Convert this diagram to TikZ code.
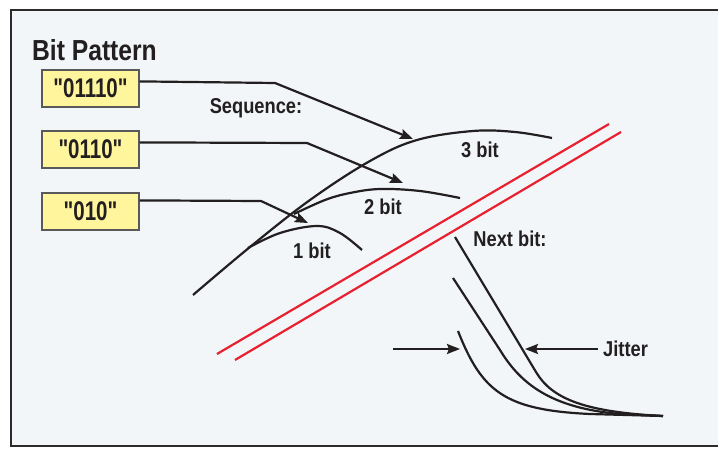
\documentclass[tikz,border=0pt]{standalone}
\usepackage{fontspec}
\usetikzlibrary{arrows.meta,calc}
\newfontfamily\lblfont{Liberation Sans Bold}[FakeStretch=0.85]
\newfontfamily\digfont{Liberation Sans Bold}[FakeStretch=0.76]
\definecolor{panel}{HTML}{F2F6F8}
\definecolor{ink}{HTML}{231F20}
\definecolor{padyellow}{HTML}{FFF59D}
\definecolor{redline}{HTML}{E8202F}
\tikzset{
  pattbox/.style={draw=black!65, line width=1.2pt, fill=padyellow, minimum width=97pt,
    minimum height=37pt, inner sep=0pt, text=ink, font=\digfont\fontsize{27}{27}\selectfont},
  lbl/.style={inner sep=0pt, text=ink, font=\lblfont\fontsize{21.5}{21.5}\selectfont},
  wire/.style={draw=ink, line width=2.2pt},
  pointer/.style={wire, -{Stealth[length=13pt,width=10pt,inset=2pt]}},
  trace/.style={draw=ink, line width=2.2pt},
  guard/.style={draw=redline, line width=2.2pt},
}
\begin{document}
\begin{tikzpicture}[x=1pt,y=-1pt]
\useasboundingbox (0,0) rectangle (718,449);
\clip (0,0) rectangle (718,449);
\fill[white] (0,0) rectangle (718,449);
% panel
\draw[draw=ink!95, line width=2.6pt, fill=panel] (11,10) rectangle (730,446);

% title
\node[inner sep=0pt, anchor=west, text=ink, font=\lblfont\fontsize{29}{29}\selectfont] (title) at (32,50) {Bit Pattern};

% pattern boxes
\node[pattbox] (b1) at (90.5,88.5) {"01110"};
\node[pattbox] (b2) at (90.5,149.5) {"0110"};
\node[pattbox] (b3) at (90.5,211.5) {"010"};

% labels
\node[lbl] (seq) at (256,108) {Sequence:};
\node[lbl] (l3) at (480,150) {3 bit};
\node[lbl] (l2) at (383,207) {2 bit};
\node[lbl] (l1) at (312,251) {1 bit};
\node[lbl] (nxt) at (510,239) {Next bit:};
\node[lbl, anchor=west] (jit) at (603,349) {Jitter};

% eye traces for the sequences
\draw[trace] plot[smooth, tension=0.6] coordinates {(193,295) (250,247) (310,200) (370,161) (417,140) (473,131) (515,132) (552,138)};
\draw[trace] plot[smooth, tension=0.6] coordinates {(294,214) (325,200) (350,193) (380,189) (420,191) (460,198)};
\draw[trace] plot[smooth, tension=0.6] coordinates {(248,248) (280,233) (317,226) (340,233) (362,250)};

% pointers from the patterns to their traces
\coordinate (t3) at (413,139);
\coordinate (t2) at (403,183);
\coordinate (t1) at (308,223);
\draw[pointer] ([yshift=-12pt]b1.north east) -- (275,83) -- (t3);
\draw[pointer] ([yshift=-12pt]b2.north east) -- (307,143) -- (t2);
\draw[pointer] ([yshift=-8pt]b3.north east) -- (261,201) -- (t1);

% separator
\draw[guard] (217,354) -- (609,124);
\draw[guard] (235,360) -- (621,132);

% next-bit transitions
\draw[trace] (455,237) -- (536,372) .. controls (552,399) and (585,412) .. (663,416);
\draw[trace] (453,278) -- (500,350) .. controls (520,383) and (550,408) .. (620,414) -- (663,416);
\draw[trace] (458,331) .. controls (482,392) and (505,410) .. (590,414) -- (663,416);

% jitter markers
\coordinate (jl) at (393,349);
\coordinate (jlt) at (460,349);
\coordinate (jrt) at (525,349);
\draw[pointer] (jl) -- (jlt);
\draw[pointer] ([xshift=-5pt]jit.west) -- (jrt);
\end{tikzpicture}
\end{document}
